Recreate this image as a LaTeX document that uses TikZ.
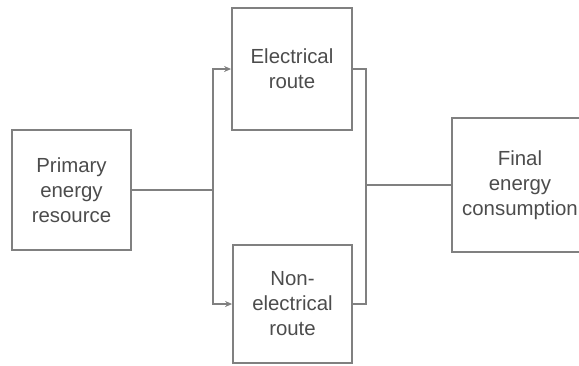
\documentclass[tikz,border=0pt]{standalone}
\usepackage{fontspec}
\setmainfont{Liberation Sans}
\usetikzlibrary{arrows.meta}
\begin{document}
\begin{tikzpicture}[x=0.5pt,y=-0.5pt,
  blk/.style={draw=black!50, line width=0.9pt, text=black!70, align=center,
    font=\fontsize{10.2}{12.5}\selectfont, inner sep=1pt},
  conn/.style={draw=black!50, line width=0.9pt},
  arr/.style={conn, -{Stealth[length=3.5pt,width=3pt]}}]
\useasboundingbox (0,0) rectangle (579,365);
\clip (0,0) rectangle (579,365);
\node[blk, minimum width=59.5pt, minimum height=60pt] (P) at (71.5,190) {Primary\\energy\\resource};
\node[blk, minimum width=60pt, minimum height=61pt] (E) at (292,69) {Electrical\\route};
\node[blk, minimum width=59.5pt, minimum height=59pt] (N) at (292.5,304) {Non-\\electrical\\route};
\node[blk, minimum width=68pt, minimum height=67pt] (F) at (520,185) {Final\\energy\\consumption};
\coordinate (j1) at (213,190);
\coordinate (j2) at (366,185);
\draw[conn] (P.east) -- (P.east -| j1);
\draw[arr] (j1) |- (E.west);
\draw[arr] (j1) |- (N.west);
\draw[conn] (E.east) -| (j2) |- (N.east);
\draw[conn] (j2) -- (j2 -| F.west);
\end{tikzpicture}
\end{document}
